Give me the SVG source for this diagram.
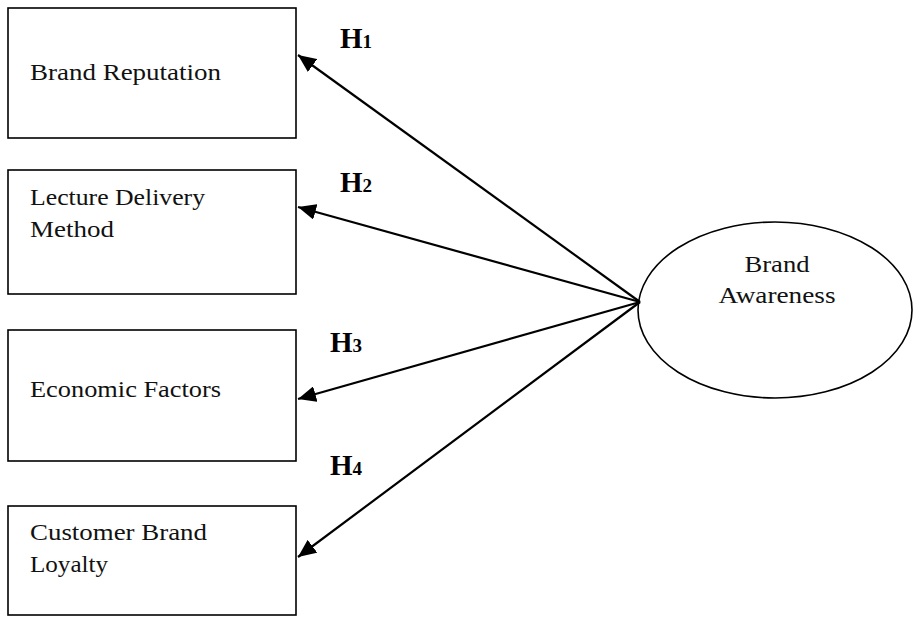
<svg xmlns="http://www.w3.org/2000/svg" width="913" height="617" viewBox="0 0 913 617">
<style>
.box{fill:#fff;stroke:#000;stroke-width:1.6}
.lbl{font-family:"Liberation Serif","Times New Roman",serif;font-size:24px;fill:#111}
.h{font-family:"Liberation Serif","Times New Roman",serif;font-weight:bold;font-size:29px;fill:#000}
.hs{font-size:19px}
.conn{stroke:#000;stroke-width:2.2;fill:none}
</style>
<defs>
<marker id="arr" markerUnits="userSpaceOnUse" markerWidth="20" markerHeight="16" refX="18" refY="8" orient="auto">
<path d="M0,0 L18,8 L0,16 Z" fill="#000"/>
</marker>
</defs>
<rect width="913" height="617" fill="#fff"/>
<g id="n1"><rect class="box" x="8" y="8" width="288" height="130"/>
<text class="lbl" x="30" y="80" textLength="191" lengthAdjust="spacingAndGlyphs">Brand Reputation</text></g>
<g id="n2"><rect class="box" x="8" y="170" width="288" height="124"/>
<text class="lbl" x="30" y="205" textLength="175" lengthAdjust="spacingAndGlyphs">Lecture Delivery</text>
<text class="lbl" x="30" y="237" textLength="84" lengthAdjust="spacingAndGlyphs">Method</text></g>
<g id="n3"><rect class="box" x="8" y="330" width="288" height="131"/>
<text class="lbl" x="30" y="397" textLength="191" lengthAdjust="spacingAndGlyphs">Economic Factors</text></g>
<g id="n4"><rect class="box" x="8" y="506" width="288" height="109"/>
<text class="lbl" x="30" y="540" textLength="177" lengthAdjust="spacingAndGlyphs">Customer Brand</text>
<text class="lbl" x="30" y="572" textLength="78" lengthAdjust="spacingAndGlyphs">Loyalty</text></g>
<g id="n5"><ellipse class="box" cx="775" cy="310" rx="137" ry="88"/>
<text class="lbl" x="777" y="272" text-anchor="middle" textLength="65" lengthAdjust="spacingAndGlyphs">Brand</text>
<text class="lbl" x="777" y="303" text-anchor="middle" textLength="117" lengthAdjust="spacingAndGlyphs">Awareness</text></g>
<g id="connectors">
<line class="conn" x1="640" y1="302" x2="298" y2="55" marker-end="url(#arr)"/>
<line class="conn" x1="640" y1="302" x2="298" y2="207" marker-end="url(#arr)"/>
<line class="conn" x1="640" y1="302" x2="298" y2="399" marker-end="url(#arr)"/>
<line class="conn" x1="640" y1="302" x2="298" y2="557" marker-end="url(#arr)"/>
</g>
<g id="labels">
<text class="h" x="340" y="48">H<tspan class="hs">1</tspan></text>
<text class="h" x="340" y="192">H<tspan class="hs">2</tspan></text>
<text class="h" x="330" y="352">H<tspan class="hs">3</tspan></text>
<text class="h" x="330" y="475">H<tspan class="hs">4</tspan></text>
</g>
</svg>
